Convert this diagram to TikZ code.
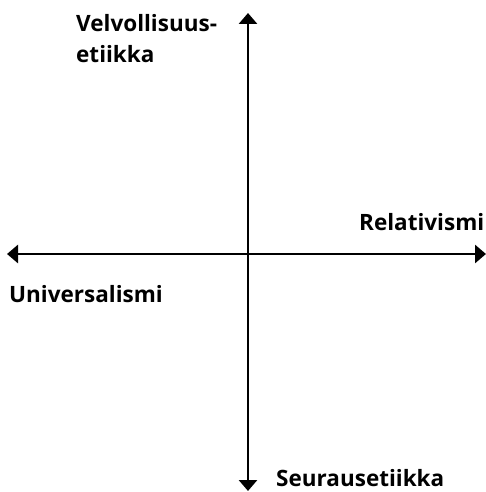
\documentclass[tikz,border=0pt]{standalone}
\usepackage{fontspec}
\setmainfont{Open Sans}
\usetikzlibrary{arrows.meta}

\begin{document}
\begin{tikzpicture}[
  x=1pt, y=-1pt,
  axis/.style={{Triangle[width=18pt,length=11pt]}-{Triangle[width=18pt,length=11pt]}, line width=2.8pt, black},
  lbl/.style={anchor=base west, inner sep=0pt, font=\bfseries\fontsize{22.5}{31}\selectfont, align=left}
]
\useasboundingbox (0,0) rectangle (486,492);
\coordinate (west) at (7,254);
\coordinate (east) at (486,254);
\coordinate (north) at (248,13);
\coordinate (south) at (248,491);
\draw[axis] (west) -- (east);
\draw[axis] (north) -- (south);
\node[lbl] (duty) at (76,63) {Velvollisuus-\\etiikka};
\node[lbl] (rel) at (359,230) {Relativismi};
\node[lbl] (univ) at (9,302) {Universalismi};
\node[lbl] (cons) at (276,486) {Seurausetiikka};
\end{tikzpicture}
\end{document}
